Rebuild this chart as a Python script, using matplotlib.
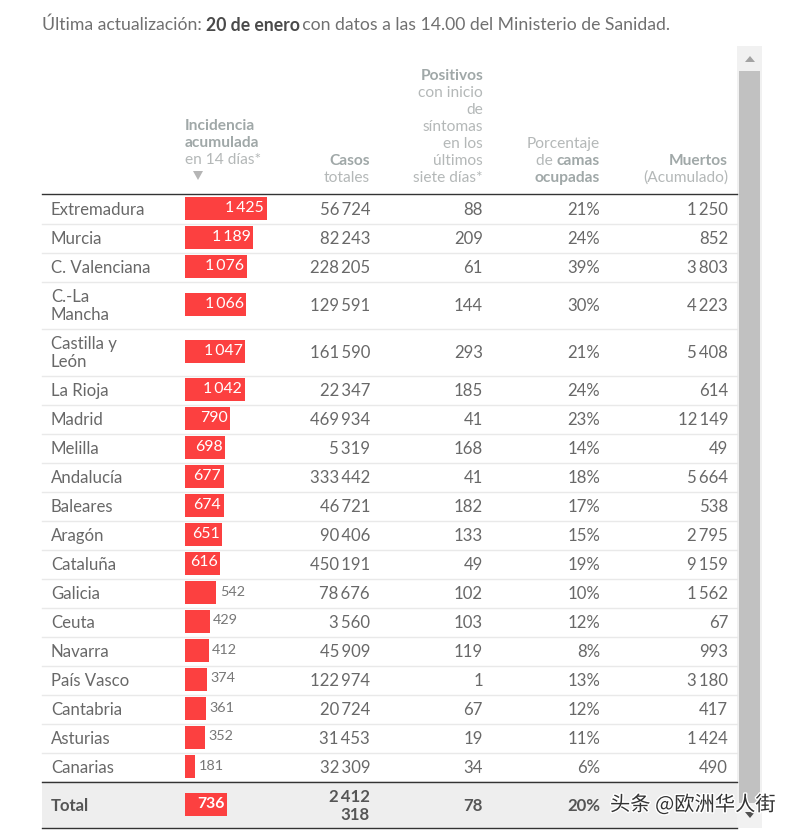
import matplotlib
matplotlib.use("Agg")
import matplotlib.pyplot as plt
import matplotlib.patheffects as pe
from matplotlib.patches import Rectangle

plt.rcParams["font.family"] = ["Lato", "DejaVu Sans"]

# datos de la tabla
regiones = ["Extremadura", "Murcia", "C. Valenciana", "C.-La\nMancha", "Castilla y\nLeón",
            "La Rioja", "Madrid", "Melilla", "Andalucía", "Baleares", "Aragón", "Cataluña",
            "Galicia", "Ceuta", "Navarra", "País Vasco", "Cantabria", "Asturias", "Canarias"]
incidencia = [1425, 1189, 1076, 1066, 1047, 1042, 790, 698, 677, 674, 651, 616,
              542, 429, 412, 374, 361, 352, 181]
casos = [56724, 82243, 228205, 129591, 161590, 22347, 469934, 5319, 333442, 46721, 90406,
         450191, 78676, 3560, 45909, 122974, 20724, 31453, 32309]
positivos = [88, 209, 61, 144, 293, 185, 41, 168, 41, 182, 133, 49, 102, 103, 119, 1, 67, 19, 34]
camas = [21, 24, 39, 30, 21, 24, 23, 14, 18, 17, 15, 19, 10, 12, 8, 13, 12, 11, 6]
muertos = [1250, 852, 3803, 4223, 5408, 614, 12149, 49, 5664, 538, 2795, 9159, 1562, 67, 993,
           3180, 417, 1424, 490]

total_incidencia = 736
total_casos = "2\u2009412\n318"
total_positivos = 78
total_camas = 20

ROJO = "#fc4040"
TEXTO = "#686868"
GRIS_B = "#a0a8a8"
GRIS = "#b4b8b8"
FS = 12.1
FS_H = 11.2


def miles(n):
    # separador de miles estrecho
    return f"{n:,}".replace(",", "\u2009")


fig = plt.figure(figsize=(7.93, 8.34), dpi=100)
ax = fig.add_axes([0, 0, 1, 1])
ax.set_xlim(0, 793)
ax.set_ylim(834, 0)
ax.axis("off")

# eje de las barras: 1425 = 82 px
ax_b = fig.add_axes([185 / 793, 0, 100 / 793, 1], zorder=2)
ax_b.set_xlim(0, 1738)
ax_b.set_ylim(834, 0)
ax_b.axis("off")


def tramos(x, y, partes, ha="left", fs=FS_H):
    # escribe trozos normal/negrita en la misma linea
    r = fig.canvas.get_renderer()
    items = []
    ancho = 0
    for s, color, w in partes:
        t = ax.text(0, y, s, fontsize=fs, color=color, fontweight=w, va="center", ha="left")
        a = t.get_window_extent(r).width
        items.append((t, a))
        ancho += a
    pos = x - ancho if ha == "right" else x
    for t, a in items:
        t.set_x(pos)
        pos += a


# cabecera
tramos(42, 25, [("Última actualización: ", "#707070", "normal"), ("20 de enero", "#4a4a4a", "bold"),
                ("\u2009con datos a las 14.00 del Ministerio de Sanidad.", "#707070", "normal")], fs=12.7)

ax.text(185, 126, "Incidencia", fontsize=FS_H, color=GRIS_B, fontweight="bold", va="center")
ax.text(185, 143, "acumulada", fontsize=FS_H, color=GRIS_B, fontweight="bold", va="center")
ax.text(185, 160, "en 14 días*", fontsize=FS_H, color=GRIS, va="center")
ax.fill([193, 203, 198], [171, 171, 180], color="#b5b5b5", lw=0)

ax.text(370, 161, "Casos", fontsize=FS_H, color=GRIS_B, fontweight="bold", va="center", ha="right")
ax.text(370, 178, "totales", fontsize=FS_H, color=GRIS, va="center", ha="right")

ax.text(483, 76, "Positivos", fontsize=FS_H, color=GRIS_B, fontweight="bold", va="center", ha="right")
for y, s in zip([93, 110, 127, 144, 161, 178],
                ["con inicio", "de", "síntomas", "en los", "últimos", "siete días*"]):
    ax.text(483, y, s, fontsize=FS_H, color=GRIS, va="center", ha="right")

ax.text(600, 144, "Porcentaje", fontsize=FS_H, color=GRIS, va="center", ha="right")
tramos(600, 161, [("de ", GRIS, "normal"), ("camas", GRIS_B, "bold")], ha="right")
ax.text(600, 178, "ocupadas", fontsize=FS_H, color=GRIS_B, fontweight="bold", va="center", ha="right")

ax.text(728, 161, "Muertos", fontsize=FS_H, color=GRIS_B, fontweight="bold", va="center", ha="right")
ax.text(728, 178, "(Acumulado)", fontsize=FS_H, color=GRIS, va="center", ha="right")

ax.plot([42, 737], [194, 194], color="#333333", lw=1)

# filas
y = 195
for i, reg in enumerate(regiones):
    alto = 47 if "\n" in reg else 29
    yc = y + alto / 2
    ax.text(51, yc + 0.5, reg, fontsize=FS, color=TEXTO, va="center", linespacing=1.2)
    ax_b.barh(yc - 1, incidencia[i], height=23, left=0, color=ROJO, lw=0)
    if incidencia[i] >= 600:
        ax_b.annotate(miles(incidencia[i]), (incidencia[i], yc - 2), xytext=(-2, 0),
                      textcoords="offset points", fontsize=11.4, color="white", ha="right", va="center")
    else:
        ax_b.annotate(miles(incidencia[i]), (incidencia[i], yc - 2), xytext=(2.5, 0),
                      textcoords="offset points", fontsize=10.4, color="#777777", ha="left", va="center")
    ax.text(370, yc + 0.5, miles(casos[i]), fontsize=FS, color=TEXTO, va="center", ha="right")
    ax.text(483, yc + 0.5, str(positivos[i]), fontsize=FS, color=TEXTO, va="center", ha="right")
    ax.text(600, yc + 0.5, f"{camas[i]}%", fontsize=FS, color=TEXTO, va="center", ha="right")
    ax.text(728, yc + 0.5, miles(muertos[i]), fontsize=FS, color=TEXTO, va="center", ha="right")
    y += alto
    if i < len(regiones) - 1:
        ax.plot([42, 737], [y - 0.5, y - 0.5], color="#e9e9e9", lw=1)

# fila de total
ax.add_patch(Rectangle((42, 781), 695, 47, facecolor="#eeeeee", lw=0))
ax.plot([42, 737], [781.5, 781.5], color="#333333", lw=1)
ax.plot([42, 737], [828, 828], color="#333333", lw=1)
yc = 805
ax.text(51, yc + 1, "Total", fontsize=FS, color="#555555", fontweight="bold", va="center")
ax_b.barh(yc - 0.5, total_incidencia, height=23, color=ROJO, lw=0)
ax_b.annotate(str(total_incidencia), (total_incidencia, yc - 1), xytext=(-2, 0), textcoords="offset points",
              fontsize=11.4, color="white", fontweight="bold", ha="right", va="center")
ax.text(370, yc + 1, total_casos, fontsize=FS, color="#555555", fontweight="bold", va="center", ha="right",
        linespacing=1.2)
ax.text(483, yc + 1, str(total_positivos), fontsize=FS, color="#555555", fontweight="bold", va="center", ha="right")
ax.text(600, yc + 1, f"{total_camas}%", fontsize=FS, color="#555555", fontweight="bold", va="center", ha="right")

# barra de desplazamiento
ax.add_patch(Rectangle((737, 46), 25, 782, facecolor="#f1f1f1", lw=0))
ax.add_patch(Rectangle((739, 71), 21, 732, facecolor="#c1c1c1", lw=0))
ax.fill([745, 755, 750], [62, 62, 56], color="#a3a3a3", lw=0)
ax.fill([745, 755, 750], [812, 812, 818], color="#505050", lw=0)

# marca de agua
ax.text(610, 805, "头条 @欧洲华人街", fontsize=14.6, color="#333333", va="center", zorder=5,
        family=["Noto Sans CJK SC", "DejaVu Sans"],
        path_effects=[pe.withStroke(linewidth=2, foreground="white")])

fig.savefig("out.png", dpi=100)
